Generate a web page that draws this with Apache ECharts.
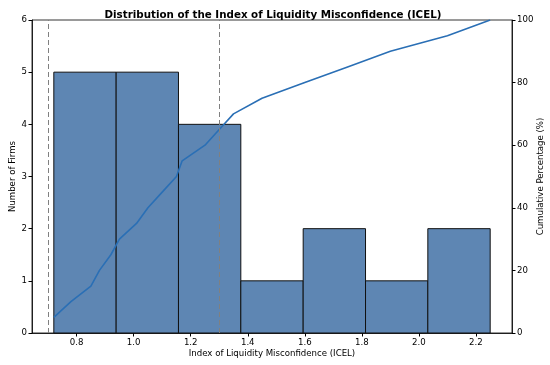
<!DOCTYPE html>
<html>
<head>
<meta charset="utf-8">
<script src="https://cdn.jsdelivr.net/npm/echarts@6/dist/echarts.min.js"></script>
<style>html,body{margin:0;padding:0;background:#fff}#c{width:550px;height:365px}</style>
</head>
<body>
<div id="c"></div>
<script>
// Histogram bin edges and counts
const binEdges = [0.72, 0.9386, 1.1571, 1.3757, 1.5943, 1.8129, 2.0314, 2.25];
const binCounts = [5, 5, 4, 1, 2, 1, 2];
// Sorted ICEL values and cumulative percentage
const sortedIcel = [0.72, 0.78, 0.85, 0.88, 0.92, 0.95, 1.01, 1.05, 1.10, 1.15, 1.17, 1.25, 1.30, 1.35, 1.45, 1.60, 1.75, 1.90, 2.10, 2.25];
const cumPct = [5, 10, 15, 20, 25, 30, 35, 40, 45, 50, 55, 60, 65, 70, 75, 80, 85, 90, 95, 100];
// Threshold lines
const thresholds = [0.7, 1.3];
const xTicks = [0.8, 1.0, 1.2, 1.4, 1.6, 1.8, 2.0, 2.2];

const chart = echarts.init(document.getElementById('c'), null, {renderer: 'canvas'});
const font = 'DejaVu Sans';
const fs = 8.6;
const histData = binCounts.map((c, i) => [binEdges[i], binEdges[i + 1], c]);
const lineData = sortedIcel.map((v, i) => [v, cumPct[i]]);

chart.setOption({
  animation: false,
  title: {
    text: 'Distribution of the Index of Liquidity Misconfidence (ICEL)',
    left: 268, top: 5, textAlign: 'center',
    textStyle: {fontFamily: font, fontSize: 10.3, fontWeight: 'bold', color: '#000'}
  },
  grid: {left: 32, right: 38, top: 20, bottom: 32, outerBoundsMode: 'none', containLabel: false,
    show: true, borderColor: '#000', borderWidth: 0.8, backgroundColor: 'transparent'},
  xAxis: {
    type: 'value', min: 0.6435, max: 2.3265,
    name: 'Index of Liquidity Misconfidence (ICEL)', nameLocation: 'middle', nameGap: 16,
    nameMoveOverlap: false,
    nameTextStyle: {fontFamily: font, fontSize: fs, color: '#000'},
    axisLine: {lineStyle: {color: '#000', width: 0.8}},
    axisTick: {show: true, customValues: xTicks, length: 3.5, lineStyle: {color: '#000'}},
    axisLabel: {customValues: xTicks, fontFamily: font, fontSize: fs, color: '#000', margin: 5,
      formatter: v => v.toFixed(1)},
    splitLine: {show: false}
  },
  yAxis: [{
    type: 'value', min: 0, max: 6, interval: 1,
    name: 'Number of Firms', nameLocation: 'middle', nameGap: 15, nameMoveOverlap: false,
    nameTextStyle: {fontFamily: font, fontSize: fs, color: '#000'},
    axisLine: {show: true, lineStyle: {color: '#000', width: 0.8}},
    axisTick: {show: true, length: 3.5, lineStyle: {color: '#000'}},
    axisLabel: {fontFamily: font, fontSize: fs, color: '#000', margin: 5},
    splitLine: {show: false}
  }, {
    type: 'value', min: 0, max: 100, interval: 20, position: 'right',
    name: 'Cumulative Percentage (%)', nameLocation: 'middle', nameGap: 24, nameRotate: 90,
    nameMoveOverlap: false,
    nameTextStyle: {fontFamily: font, fontSize: fs, color: '#000'},
    axisLine: {show: true, lineStyle: {color: '#000', width: 0.8}},
    axisTick: {show: true, length: 3.5, lineStyle: {color: '#000'}},
    axisLabel: {fontFamily: font, fontSize: fs, color: '#000', margin: 5},
    splitLine: {show: false}
  }],
  series: [{
    type: 'custom',
    xAxisIndex: 0, yAxisIndex: 0,
    data: histData,
    renderItem: function (params, api) {
      const p0 = api.coord([api.value(0), api.value(2)]);
      const p1 = api.coord([api.value(1), 0]);
      return {
        type: 'rect',
        shape: {x: p0[0], y: p0[1], width: p1[0] - p0[0], height: p1[1] - p0[1]},
        style: {fill: '#5e86b3', stroke: '#111', lineWidth: 1}
      };
    },
    markLine: {
      silent: true, symbol: 'none', label: {show: false},
      lineStyle: {color: '#808080', type: [5, 3], width: 1},
      data: thresholds.map(t => ({xAxis: t}))
    },
    z: 2
  }, {
    type: 'line',
    xAxisIndex: 0, yAxisIndex: 1,
    data: lineData,
    showSymbol: false, symbol: 'none',
    lineStyle: {color: '#2a6fb5', width: 1.6},
    z: 3
  }]
});
</script>
</body>
</html>
